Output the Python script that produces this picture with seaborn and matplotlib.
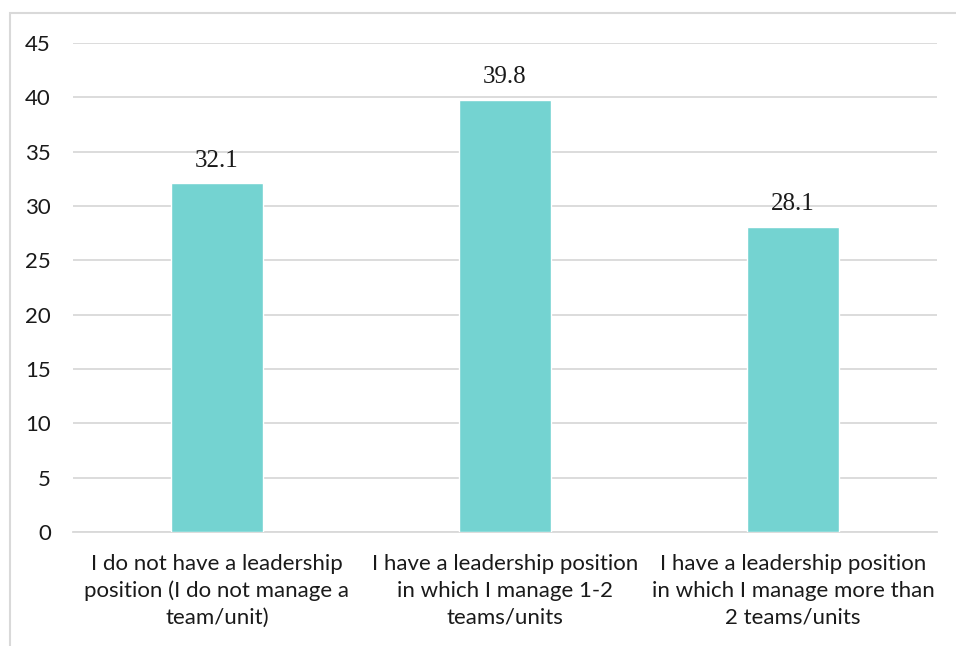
import matplotlib
matplotlib.use("Agg")
import matplotlib.pyplot as plt
from matplotlib.patches import Rectangle
import seaborn as sns
import pandas as pd

categories = [
    "I do not have a leadership\nposition (I do not manage a\nteam/unit)",
    "I have a leadership position\nin which I manage 1-2\nteams/units",
    "I have a leadership position\nin which I manage more than\n2 teams/units",
]
values = [32.1, 39.8, 28.1]
y_ticks = [0, 5, 10, 15, 20, 25, 30, 35, 40, 45]

bar_color = "#74D3D1"
grid_color = "#D9D9D9"

sns.set_theme(style="white")
plt.rcParams["font.family"] = ["Lato", "DejaVu Sans"]

df = pd.DataFrame({"category": categories, "value": values})

fig = plt.figure(figsize=(9.56, 6.46), dpi=100)
ax = fig.add_axes([73 / 956, 1 - 532 / 646, 864 / 956, 489 / 646])

sns.barplot(data=df, x="category", y="value", color=bar_color,
            saturation=1, width=0.316, ax=ax, zorder=3)

ax.set_xlim(-0.5, 2.5)
ax.set_ylim(0, 45)
ax.set_yticks(y_ticks)
ax.set_yticklabels([str(t) for t in y_ticks])
ax.set_xlabel("")
ax.set_ylabel("")

ax.grid(axis="y", color=grid_color, linewidth=1.3, zorder=0)
ax.set_axisbelow(True)
for side in ["top", "right", "left"]:
    ax.spines[side].set_visible(False)
ax.spines["bottom"].set_color(grid_color)
ax.spines["bottom"].set_linewidth(1.3)

ax.tick_params(axis="y", length=0, pad=16, labelsize=16, labelcolor="#1a1a1a")
ax.tick_params(axis="x", length=0, pad=16, labelsize=16, labelcolor="#1a1a1a")
for lbl in ax.get_xticklabels():
    lbl.set_linespacing(1.4)

for patch, v in zip(ax.patches, values):
    ax.annotate(f"{v:.1f}", (patch.get_x() + patch.get_width() / 2, v),
                xytext=(0, 12), textcoords="offset points",
                ha="center", va="baseline", fontsize=18,
                family="Liberation Serif", color="#1a1a1a")

# chart frame
fig.patches.append(Rectangle((9.5 / 956, -0.05), 1.1, 1 - 13.5 / 646 + 0.05,
                             transform=fig.transFigure, fill=False,
                             edgecolor=grid_color, linewidth=1.5))

fig.savefig("out.png", dpi=100)
